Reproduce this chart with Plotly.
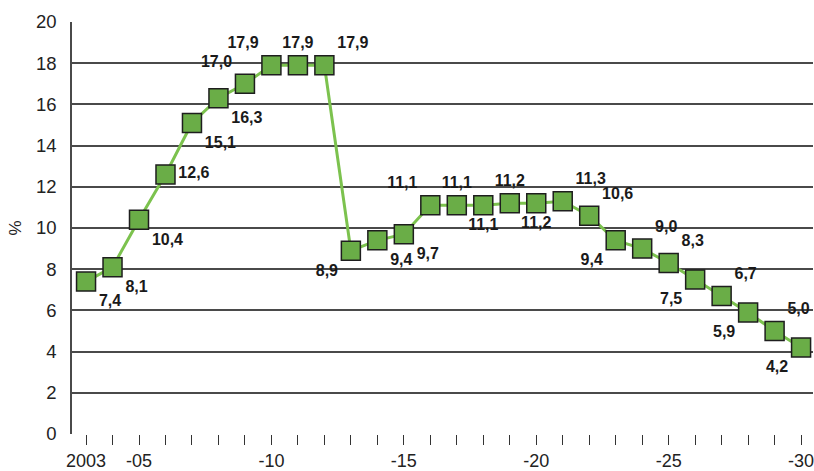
import plotly.graph_objects as go

years = list(range(2003, 2031))
values = [7.4, 8.1, 10.4, 12.6, 15.1, 16.3, 17.0, 17.9, 17.9, 17.9,
          8.9, 9.4, 9.7, 11.1, 11.1, 11.1, 11.2, 11.2, 11.3, 10.6,
          9.4, 9.0, 8.3, 7.5, 6.7, 5.9, 5.0, 4.2]
label_pos = ["bottom right", "bottom right", "bottom right", "middle right",
             "bottom right", "bottom right", "top left", "top left",
             "top center", "top right", "bottom left", "bottom right",
             "bottom right", "top left", "top center", "bottom center",
             "top center", "bottom center", "top right", "top right",
             "bottom left", "top right", "top right", "bottom left",
             "top right", "bottom left", "top right", "bottom left"]
tick_labels = {2003: "2003", 2005: "-05", 2010: "-10", 2015: "-15",
               2020: "-20", 2025: "-25", 2030: "-30"}
y_ticks = [0, 2, 4, 6, 8, 10, 12, 14, 16, 18, 20]

labels = [f"{v:.1f}".replace(".", ",") for v in values]

font = "Arial, Liberation Sans, sans-serif"

fig = go.Figure()
fig.add_trace(go.Scatter(
    x=years, y=values,
    mode="lines+markers+text",
    line=dict(color="#7cc24e", width=3),
    marker=dict(symbol="square", size=19, color="#6aad47",
                line=dict(color="#1e1e1e", width=1.5)),
    text=labels,
    textposition=label_pos,
    textfont=dict(family=font, size=16, color="#1a1a1a", weight="bold"),
    cliponaxis=False,
    showlegend=False,
))

fig.update_layout(
    width=814, height=471,
    margin=dict(l=72, r=0, t=22, b=33),
    paper_bgcolor="white", plot_bgcolor="white",
    xaxis=dict(
        range=[2002.47, 2030.45],
        tickvals=years,
        ticktext=[tick_labels.get(y, "") for y in years],
        ticks="outside", ticklen=10, tickwidth=1.2, tickcolor="#333333",
        showgrid=False, zeroline=False,
        showline=False,
        ticklabeloverflow="allow",
        tickfont=dict(family=font, size=18, color="#222222"),
        fixedrange=True,
    ),
    yaxis=dict(
        range=[0, 20],
        tickvals=y_ticks,
        showgrid=True, gridcolor="#4a4a4a", gridwidth=1.5,
        zeroline=False,
        showline=True, linecolor="#4a4a4a", linewidth=1.5,
        ticks="", ticklabelstandoff=10,
        tickfont=dict(family=font, size=18.5, color="#222222"),
        title=dict(text="%", font=dict(family=font, size=17, color="#222222"), standoff=10),
        fixedrange=True,
    ),
)

fig.write_html("out.html")
